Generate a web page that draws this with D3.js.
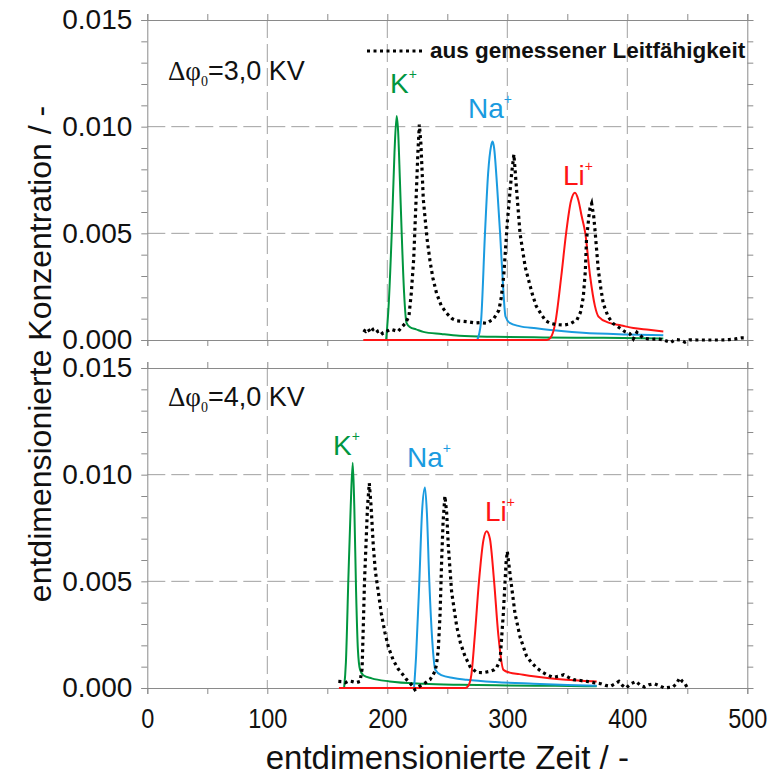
<!DOCTYPE html>
<html>
<head>
<meta charset="utf-8">
<script src="https://cdn.jsdelivr.net/npm/d3@7/dist/d3.min.js"></script>
<style>
  body { margin: 0; background: #fff; }
</style>
</head>
<body>
<svg id="chart" width="773" height="776"></svg>
<script>
// x ticks / y ticks
var xTicks = d3.range(0, 501, 50);
var xLabels = [0, 100, 200, 300, 400, 500];
var yTicks = d3.range(0, 0.0151, 0.001);
var yLabels = [0, 0.005, 0.010, 0.015];

// panel 1: delta phi = 3,0 KV  (simulated K+, Na+, Li+ and measured)
var k3 = [[199,0],[201,0.0015],[203.7,0.005],[206,0.0088],[207.8,0.0105],[209,0.0098],[210.5,0.0075],[212,0.005],[214,0.0022],[216,0.0008],[219,0.0006],[224,0.0005],[230,0.00038],[245,0.00028],[260,0.0002],[290,0.00015],[330,0.00012],[380,0.0001],[430,0.00007]];
var na3 = [[275,0],[278,0.0008],[281.4,0.005],[284,0.0078],[286.5,0.0091],[287.8,0.0093],[289,0.009],[291.5,0.0072],[294,0.005],[296.5,0.0025],[298.5,0.0011],[302,0.0008],[310,0.00065],[324,0.00055],[345,0.00042],[363,0.00034],[400,0.00026],[430,0.00022]];
var li3 = [[180,0],[333,0],[336,0.0001],[340,0.0008],[345,0.003],[349,0.005],[353,0.0065],[356.4,0.0069],[359,0.0066],[362,0.0058],[365,0.005],[369,0.003],[373,0.0016],[376,0.0011],[385,0.0008],[395,0.00068],[405,0.00056],[418,0.00048],[430,0.0004]];
var meas3 = [[180,0.00047],[182,0.0004],[184,0.00052],[186,0.00035],[188,0.0005],[190,0.00055],[192,0.0004],[194,0.00045],[196,0.0003],[198,0.00038],[200,0.00042],[203,0.0005],[206,0.00045],[209,0.0004],[212,0.0006],[215,0.00078],[218,0.0011],[220,0.0022],[222,0.0038],[224,0.0066],[225.5,0.0088],[226.7,0.0101],[228,0.0092],[230,0.0066],[233,0.0048],[235.6,0.0037],[238,0.0029],[241,0.0022],[245,0.0016],[249.5,0.00125],[254,0.001],[258,0.0009],[263,0.00088],[268,0.00085],[273,0.0008],[278,0.00082],[283,0.00078],[286,0.0009],[288,0.00095],[291,0.0012],[293,0.0014],[295,0.002],[297,0.003],[300,0.0055],[302,0.0068],[303.6,0.0078],[305.5,0.0087],[307.8,0.007],[310.6,0.005],[315,0.0034],[320.6,0.0022],[324,0.0016],[327.8,0.00125],[332,0.0009],[336,0.00078],[341,0.00072],[347,0.0007],[352,0.00075],[358,0.00094],[361,0.0013],[363.3,0.002],[365,0.0032],[366,0.0047],[368,0.0058],[369,0.0062],[370.3,0.0064],[372,0.0058],[373,0.0052],[375.8,0.0033],[378,0.0024],[380,0.0017],[384,0.0011],[388,0.00078],[394,0.00055],[398,0.00039],[402,0.0003],[405,0.00005],[408,0.00036],[413,0.0001],[419,0.00003],[425,0.00005],[430,0.00001],[436,-0.00012],[440,0.00002],[444,0],[448,-0.0001],[452,0.00001],[458,0],[465,0],[472,0],[478,0],[485,0.00002],[490,0.00005],[495,0.0001],[500,0.0001]];

// panel 2: delta phi = 4,0 KV
var k4 = [[164,0],[165.5,0.0012],[167.6,0.0052],[169.5,0.0085],[171.2,0.01056],[172.5,0.0085],[174,0.0045],[175.5,0.0018],[177.3,0.00086],[180,0.0006],[187,0.00045],[202,0.00031],[230,0.0002],[260,0.00015],[300,0.00012],[340,0.0001],[374.5,0.00008]];
var na4 = [[222.3,0],[224,0.0015],[226.7,0.005],[229,0.0083],[231.4,0.0094],[233,0.0082],[235,0.005],[237.5,0.0022],[240,0.00086],[245,0.0006],[255,0.00047],[266,0.00039],[290,0.00028],[321.7,0.0002],[350,0.00014],[374.5,0.0001]];
var li4 = [[159.7,0],[265,0],[267.5,0.0001],[270,0.0006],[273,0.0025],[276.4,0.005],[280,0.0069],[282.8,0.00735],[285.5,0.007],[289,0.005],[292.5,0.0025],[296.7,0.00086],[302,0.00072],[310,0.00065],[321.7,0.00055],[335,0.00046],[349,0.00039],[362,0.00034],[374.5,0.00031]];
var meas4 = [[159.2,0.00031],[162,0.0003],[165,0.00025],[168,0.00033],[171,0.0003],[174,0.00025],[177.3,0.00031],[179,0.0009],[180,0.0029],[181,0.005],[182.3,0.0068],[183.5,0.0085],[185,0.0096],[186.5,0.0085],[188.3,0.0067],[190,0.0055],[192.5,0.0045],[195,0.0035],[198,0.0026],[201,0.0019],[205,0.0013],[209,0.0009],[213.4,0.0006],[216,0.0004],[219,0.00023],[221,0.0001],[223,-0.00008],[225,0],[228.6,0.00015],[232,0.00025],[235.6,0.00039],[238,0.0006],[239.7,0.00078],[241,0.0011],[242.5,0.0018],[244,0.0035],[245.3,0.006],[246.5,0.0078],[248,0.009],[249.5,0.0082],[250.8,0.0067],[253.6,0.0045],[257.8,0.0029],[261,0.0021],[264.7,0.0015],[269,0.001],[274.4,0.00073],[280,0.00072],[285.6,0.00078],[289,0.00085],[291,0.00094],[294,0.0013],[296.7,0.0035],[299,0.0059],[300,0.0064],[302.8,0.0051],[306.4,0.0035],[310.6,0.0024],[316,0.0015],[320,0.0012],[324.5,0.00094],[329,0.00075],[333,0.00062],[338,0.0005],[343,0.00055],[347,0.00062],[351,0.0005],[355.3,0.00039],[361,0.00035],[366.4,0.00031],[372,0.00025],[377.8,0.0002],[382,0.00012],[386,0.00008],[390,0.0002],[393,0.00031],[396,0.00012],[398.9,0],[403,0.0002],[407.3,0.00031],[411,0.00012],[414.3,0.00005],[418,0.00015],[422.6,0.0002],[427,0.0001],[431,0],[435,0.00003],[438,0.00005],[441,0.0002],[443.6,0.00047],[446,0.0003],[447.8,0.00023],[450.6,-0.00005]];

var panelLabels = ["3,0 KV", "4,0 KV"];
var legendText = "aus gemessener Leitfähigkeit";

var colors = { k: "#00963f", na: "#1a9be0", li: "#ff1414" };
var sans = "'Liberation Sans', Arial, sans-serif";
var serif = "'Liberation Serif', 'Times New Roman', serif";

var svg = d3.select("#chart");
var left = 147.3, plotW = 600, plotH = 320;
var panelTops = [20, 368];

var x = d3.scaleLinear().domain([0, 500]).range([left, left + plotW]);

var panels = [
  { top: panelTops[0], k: k3, na: na3, li: li3, meas: meas3, label: panelLabels[0] },
  { top: panelTops[1], k: k4, na: na4, li: li4, meas: meas4, label: panelLabels[1] }
];

var axisColor = "#8a8a8a";

function styleAxis(g) {
  g.select(".domain").attr("stroke", axisColor);
  g.selectAll(".tick line").attr("stroke", axisColor);
}

panels.forEach(function (p, i) {
  var y = d3.scaleLinear().domain([0, 0.015]).range([p.top + plotH, p.top]);
  var g = svg.append("g");

  // dashed grid
  g.selectAll("line.gx").data([100, 200, 300, 400]).enter().append("line")
    .attr("x1", d => x(d)).attr("x2", d => x(d))
    .attr("y1", p.top).attr("y2", p.top + plotH)
    .attr("stroke", "#a0a0a0").attr("stroke-width", 1).attr("stroke-dasharray", "18,6");
  g.selectAll("line.gy").data([0.005, 0.010]).enter().append("line")
    .attr("x1", x(0)).attr("x2", x(500))
    .attr("y1", d => y(d)).attr("y2", d => y(d))
    .attr("stroke", "#a0a0a0").attr("stroke-width", 1).attr("stroke-dasharray", "18,6");

  // axes (outward ticks on all four sides)
  var bottom = g.append("g").attr("transform", "translate(0," + (p.top + plotH) + ")")
    .call(d3.axisBottom(x).tickValues(xTicks).tickSizeOuter(0).tickSize(6).tickPadding(14)
      .tickFormat(d => (i === 1 && xLabels.indexOf(d) >= 0) ? d : ""));
  styleAxis(bottom);
  bottom.selectAll("text").attr("font-family", sans).attr("font-size", 28)
    .attr("fill", "#111").attr("transform", "scale(0.84,1)");

  var top = g.append("g").attr("transform", "translate(0," + p.top + ")")
    .call(d3.axisTop(x).tickValues(xTicks).tickSizeOuter(0).tickSize(6).tickFormat(""));
  styleAxis(top);

  var leftAx = g.append("g").attr("transform", "translate(" + left + ",0)")
    .call(d3.axisLeft(y).tickValues(yTicks).tickSizeOuter(0).tickSize(6).tickPadding(9)
      .tickFormat(d => yLabels.some(v => Math.abs(v - d) < 1e-9) ? d3.format(".3f")(d) : ""));
  styleAxis(leftAx);
  leftAx.selectAll("text").attr("font-family", sans).attr("font-size", 28).attr("fill", "#111");

  var rightAx = g.append("g").attr("transform", "translate(" + x(500) + ",0)")
    .call(d3.axisRight(y).tickValues(yTicks).tickSizeOuter(0).tickSize(6).tickFormat(""));
  styleAxis(rightAx);

  // curves
  var line = d3.line().x(d => x(d[0])).y(d => y(d[1])).curve(d3.curveMonotoneX);
  [["k", p.k], ["na", p.na], ["li", p.li]].forEach(function (s) {
    g.append("path").datum(s[1]).attr("d", line)
      .attr("fill", "none").attr("stroke", colors[s[0]]).attr("stroke-width", 2);
  });
  g.append("path").datum(p.meas).attr("d", d3.line().x(d => x(d[0])).y(d => y(d[1])))
    .attr("fill", "none").attr("stroke", "#000").attr("stroke-width", 3.2)
    .attr("stroke-dasharray", "3,3.5");

  // panel label  delta phi_0
  var t = g.append("text").attr("x", 168).attr("y", p.top + (i === 0 ? 60 : 38))
    .attr("font-family", sans).attr("font-size", 27).attr("fill", "#111");
  t.append("tspan").attr("font-family", serif).text("\u0394\u03c6");
  t.append("tspan").attr("font-family", serif).attr("font-size", 14).attr("dy", 6).text("0");
  t.append("tspan").attr("dy", -6).text("=" + p.label);
});

// ion labels
var ionLabels = [
  { x: 390, y: 93, name: "K", c: colors.k },
  { x: 468, y: 118, name: "Na", c: colors.na },
  { x: 563, y: 185, name: "Li", c: colors.li },
  { x: 333, y: 455, name: "K", c: colors.k },
  { x: 407, y: 467, name: "Na", c: colors.na },
  { x: 485, y: 521, name: "Li", c: colors.li }
];
ionLabels.forEach(function (l) {
  var t = svg.append("text").attr("x", l.x).attr("y", l.y)
    .attr("font-family", sans).attr("font-size", 28).attr("fill", l.c);
  t.append("tspan").text(l.name);
  t.append("tspan").attr("font-size", 14).attr("dy", -14).text("+");
});

// legend
svg.append("line").attr("x1", 367).attr("x2", 422).attr("y1", 51).attr("y2", 51)
  .attr("stroke", "#000").attr("stroke-width", 3.2).attr("stroke-dasharray", "3,3.5");
svg.append("text").attr("x", 430).attr("y", 58)
  .attr("font-family", sans).attr("font-weight", "bold")
  .attr("font-size", 22.5).attr("fill", "#111").text(legendText);

// axis titles
svg.append("text").attr("x", x(250)).attr("y", 769)
  .attr("text-anchor", "middle").attr("font-family", sans).attr("font-size", 33).attr("fill", "#111")
  .text("entdimensionierte Zeit / -");
svg.append("text")
  .attr("transform", "translate(51,354) rotate(-90)")
  .attr("text-anchor", "middle").attr("font-family", sans).attr("font-size", 32).attr("fill", "#111")
  .text("entdimensionierte Konzentration / -");
</script>
</body>
</html>
